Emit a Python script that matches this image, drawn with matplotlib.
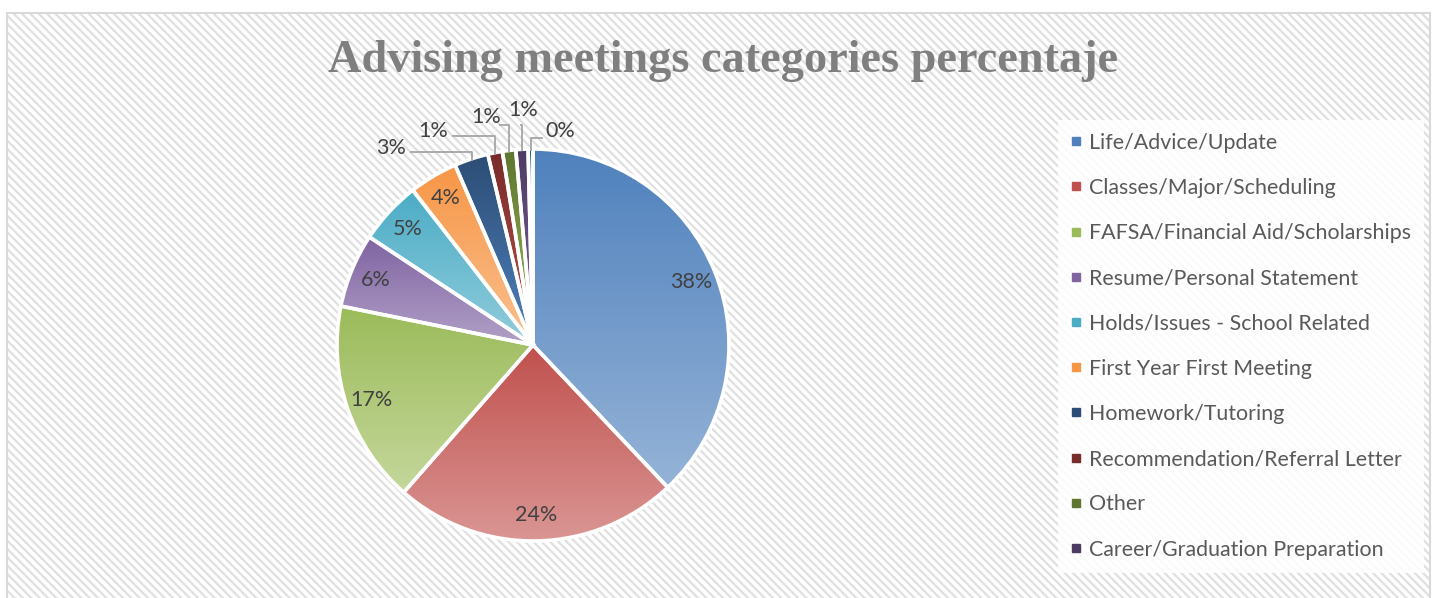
import numpy as np
import matplotlib
matplotlib.use("Agg")
import matplotlib.pyplot as plt
from matplotlib.colors import LinearSegmentedColormap
from matplotlib.patches import Rectangle
from matplotlib.lines import Line2D

categories = [
    "Life/Advice/Update",
    "Classes/Major/Scheduling",
    "FAFSA/Financial Aid/Scholarships",
    "Resume/Personal Statement",
    "Holds/Issues - School Related",
    "First Year First Meeting",
    "Homework/Tutoring",
    "Recommendation/Referral Letter",
    "Other",
    "Career/Graduation Preparation",
    "Unlisted",
]
shares = [37.9, 23.5, 16.7, 6.1, 5.2, 4.0, 2.8, 1.2, 1.1, 1.0, 0.4]
pct_labels = ["38%", "24%", "17%", "6%", "5%", "4%", "3%", "1%", "1%", "1%", "0%"]

# top / bottom gradient colours per slice
top_colors = ["#4f81bd", "#c0504d", "#9bbb59", "#8064a2", "#4bacc6", "#f79646",
              "#2c4d75", "#772c2a", "#5f7530", "#4d3b62", "#276a7c"]
bot_colors = ["#95b3d7", "#da9694", "#c4d79b", "#b1a0c7", "#92cddc", "#fac090",
              "#4f81bd", "#c0504d", "#9bbb59", "#8064a2", "#4bacc6"]

W, H = 1432, 598
fig = plt.figure(figsize=(W / 100, H / 100), dpi=100)
fig.patch.set_facecolor("white")

# hatched chart area + border
plt.rcParams["hatch.linewidth"] = 1.6
bg = Rectangle((7 / W, 0), (W - 9) / W, (H - 13) / H, transform=fig.transFigure,
               facecolor="white", edgecolor="#e0e0e0", hatch="\\\\\\\\", linewidth=0, zorder=-2)
fig.patches.append(bg)
border = Rectangle((7 / W, -0.01), (W - 9) / W, (H - 13) / H + 0.01, transform=fig.transFigure,
                   facecolor="none", edgecolor="#d9d9d9", linewidth=1.5, zorder=-1)
fig.patches.append(border)

# pie axes: center (533, 345) px, radius 196 px
R = 196
cx, cy = 533, H - 345
lim = 1.25
size = 2 * lim * R
ax = fig.add_axes([(cx - size / 2) / W, (cy - size / 2) / H, size / W, size / H])
ax.set_xlim(-lim, lim)
ax.set_ylim(-lim, lim)
ax.axis("off")
ax.patch.set_alpha(0)

wedges, _ = ax.pie(shares, startangle=90, counterclock=False, radius=1,
                   wedgeprops=dict(edgecolor="white", linewidth=2.6))

grad = np.linspace(0, 1, 256).reshape(-1, 1)
for w, c0, c1 in zip(wedges, top_colors, bot_colors):
    bb = w.get_path().get_extents(w.get_patch_transform())
    cmap = LinearSegmentedColormap.from_list("g", [c0, c1])
    im = ax.imshow(grad, cmap=cmap, extent=[bb.x0, bb.x1, bb.y0, bb.y1],
                   origin="upper", aspect="auto", zorder=1)
    im.set_clip_path(w)
    w.set_facecolor("none")
    w.set_zorder(2)
ax.set_xlim(-lim, lim)
ax.set_ylim(-lim, lim)

def px(x, y):
    return (x - 533) / R, (345 - y) / R

label_font = dict(family="Lato", fontsize=15.5, color="#404040")

# inside labels
n_inside = 6
for w, lab in zip(wedges[:n_inside], pct_labels[:n_inside]):
    ang = np.deg2rad((w.theta1 + w.theta2) / 2)
    r = 0.87
    ax.text(r * np.cos(ang), r * np.sin(ang), lab, ha="center", va="center", zorder=4, **label_font)

# outside labels with leader lines (text centre px, line end px)
outside = [((391, 148), (410, 152)),
           ((433, 131), (452, 136)),
           ((486, 117), (499, 125)),
           ((523, 110), (520, 125)),
           ((560, 131), (543, 138))]
for w, lab, (tp, le) in zip(wedges[n_inside:], pct_labels[n_inside:], outside):
    ang = np.deg2rad((w.theta1 + w.theta2) / 2)
    ex, ey = 0.99 * np.cos(ang), 0.99 * np.sin(ang)
    lx, ly = px(*le)
    ax.plot([ex, ex, lx], [ey, ly, ly], color="#a6a6a6", lw=1.3, zorder=3,
            solid_capstyle="butt")
    tx, ty = px(*tp)
    ax.text(tx, ty, lab, ha="center", va="center", zorder=4, **label_font)

fig.text(723 / W, 1 - 61 / H, "Advising meetings categories percentaje",
         ha="center", va="center", family="Liberation Serif", fontweight="bold",
         fontsize=33.3, color="#7f7f7f")

handles = [Line2D([0], [0], marker="s", linestyle="none", markersize=6,
                  markerfacecolor=c, markeredgecolor=c) for c in top_colors[:10]]
leg = fig.legend(handles, categories[:10], loc="upper left",
                 bbox_to_anchor=(1047 / W, 1 - 109 / H), frameon=True,
                 prop=dict(family="Lato", size=15.4), labelcolor="#595959",
                 handlelength=0.5, handletextpad=0.35, labelspacing=1.18,
                 borderpad=0.6, fancybox=False)
leg.get_frame().set_facecolor("white")
leg.get_frame().set_alpha(0.85)
leg.get_frame().set_linewidth(0)

fig.savefig("out.png", dpi=100)
